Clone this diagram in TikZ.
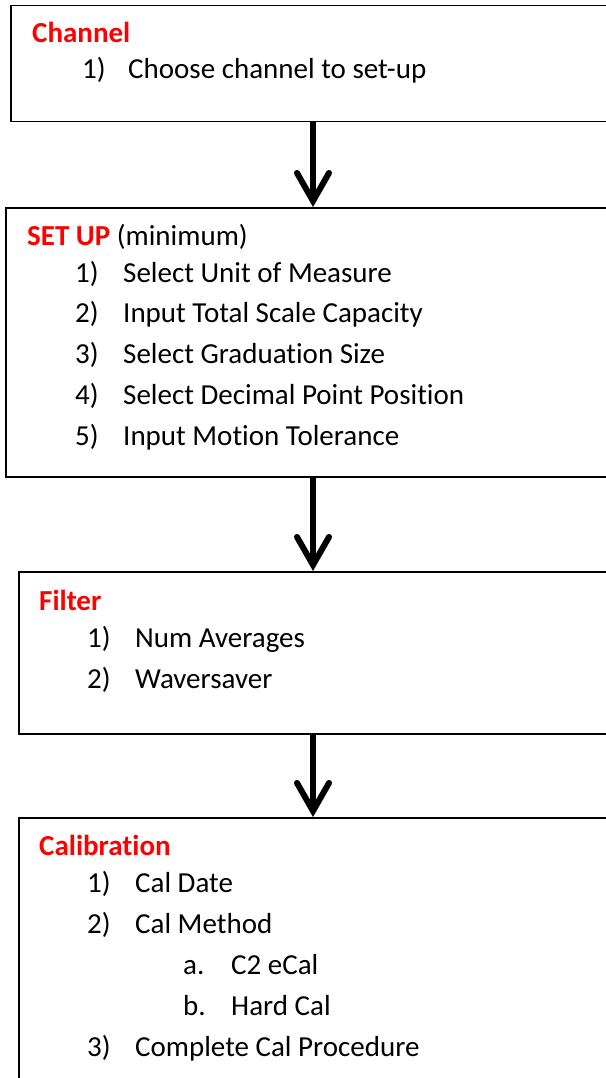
\documentclass[tikz,border=0pt]{standalone}
\usepackage{fontspec}
\setmainfont[Ligatures=NoCommon,RawFeature={-liga;-dlig}]{Carlito}
\usetikzlibrary{arrows.meta}
\definecolor{headred}{RGB}{255,0,0}
\tikzset{
  box/.style={draw=black, line width=1.5pt, anchor=north west, inner sep=0pt},
  head/.style={anchor=base west, inner sep=0pt, text=headred,
    font=\fontsize{29}{41}\selectfont\bfseries},
  txt/.style={anchor=base west, inner sep=0pt, text=black,
    font=\fontsize{29}{41}\selectfont},
  flow/.style={line width=6pt,
    -{Straight Barb[length=28pt, width=32pt, line cap=round, line join=miter]}},
}
\begin{document}
\begin{tikzpicture}[x=1pt,y=-1pt]
\useasboundingbox (0,0) rectangle (605,1078);

% step boxes (they run past the right edge of the page)
\node[box, minimum width=640pt, minimum height=116pt] (chan)  at (10,5)   {};
\node[box, minimum width=640pt, minimum height=269pt] (setup) at (5,207)  {};
\node[box, minimum width=640pt, minimum height=162pt] (filt)  at (18,571) {};
\node[box, minimum width=640pt, minimum height=300pt] (cal)   at (18,817) {};

% Channel
\node[head] (chanh) at (32,43) {Channel};
\node[txt] (chan1n) at (82,79)  {1)};
\node[txt] (chan1)  at (128,79) {Choose channel to set-up};

% SET UP
\node[txt] (seth) at (27,245) {\textcolor{headred}{\bfseries SET UP} (minimum)};
\node[txt] (set1n) at (75,282) {1)};
\node[txt] (set1)  at (123,282) {Select Unit of Measure};
\node[txt] (set2n) at (75,322) {2)};
\node[txt] (set2)  at (123,322) {Input Total Scale Capacity};
\node[txt] (set3n) at (75,363) {3)};
\node[txt] (set3)  at (123,363) {Select Graduation Size};
\node[txt] (set4n) at (75,404) {4)};
\node[txt] (set4)  at (123,404) {Select Decimal Point Position};
\node[txt] (set5n) at (75,445) {5)};
\node[txt] (set5)  at (123,445) {Input Motion Tolerance};

% Filter
\node[head] (filth) at (39,610) {Filter};
\node[txt] (filt1n) at (87,647)  {1)};
\node[txt] (filt1)  at (135,647) {Num Averages};
\node[txt] (filt2n) at (87,688)  {2)};
\node[txt] (filt2)  at (135,688) {Waversaver};

% Calibration
\node[head] (calh) at (39,855) {Calibration};
\node[txt] (cal1n) at (87,892)  {1)};
\node[txt] (cal1)  at (135,892) {Cal Date};
\node[txt] (cal2n) at (87,933)  {2)};
\node[txt] (cal2)  at (135,933) {Cal Method};
\node[txt] (cal2an) at (183,974) {a.};
\node[txt] (cal2a)  at (231,974) {C2 eCal};
\node[txt] (cal2bn) at (183,1015) {b.};
\node[txt] (cal2b)  at (231,1015) {Hard Cal};
\node[txt] (cal3n) at (87,1056)  {3)};
\node[txt] (cal3)  at (135,1056) {Complete Cal Procedure};

% flow arrows
\coordinate (ax) at (313,0);
\draw[flow] (chan.south -| ax)  -- (setup.north -| ax);
\draw[flow] (setup.south -| ax) -- (filt.north -| ax);
\draw[flow] (filt.south -| ax)  -- (cal.north -| ax);
\end{tikzpicture}
\end{document}
